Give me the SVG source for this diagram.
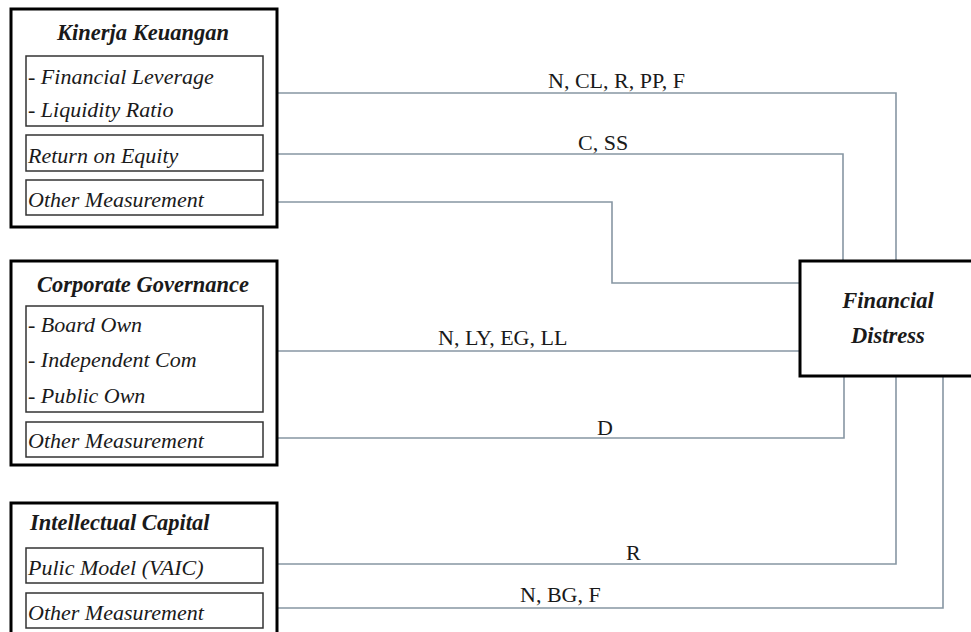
<svg xmlns="http://www.w3.org/2000/svg" width="971" height="632" viewBox="0 0 971 632">
<style>
.outer{fill:#fff;stroke:#000;stroke-width:3}
.inner{fill:#fff;stroke:#333;stroke-width:1.5}
.conn{fill:none;stroke:#8796a3;stroke-width:1.6}
text{font-family:'Liberation Serif','DejaVu Serif',serif;font-size:22px;fill:#1a1a1a}
.it{font-style:italic}
.title{font-style:italic;font-weight:bold;font-size:22.5px}
</style>
<rect width="971" height="632" fill="#fff"/>
<g id="connectors">
<polyline class="conn" points="263,93 896,93 896,261"/>
<polyline class="conn" points="263,154 843,154 843,261"/>
<polyline class="conn" points="263,202 612,202 612,283 800,283"/>
<polyline class="conn" points="263,351 800,351"/>
<polyline class="conn" points="263,438 844,438 844,376"/>
<polyline class="conn" points="263,564 896,564 896,376"/>
<polyline class="conn" points="263,608 943,608 943,376"/>
<text x="548" y="88">N, CL, R, PP, F</text>
<text x="578" y="150">C, SS</text>
<text x="438" y="345">N, LY, EG, LL</text>
<text x="597" y="435">D</text>
<text x="626" y="560">R</text>
<text x="520" y="602">N, BG, F</text>
</g>
<g id="kinerja">
<rect class="outer" x="11" y="9" width="266" height="218"/>
<text class="title" x="143" y="40" text-anchor="middle">Kinerja Keuangan</text>
<rect class="inner" x="26" y="56" width="237" height="70"/>
<text class="it" x="28" y="84">- Financial Leverage</text>
<text class="it" x="28" y="117">- Liquidity Ratio</text>
<rect class="inner" x="26" y="135" width="237" height="36"/>
<text class="it" x="28" y="163">Return on Equity</text>
<rect class="inner" x="26" y="180" width="237" height="35"/>
<text class="it" x="28" y="207">Other Measurement</text>
</g>
<g id="governance">
<rect class="outer" x="11" y="261" width="266" height="204"/>
<text class="title" x="143" y="292" text-anchor="middle">Corporate Governance</text>
<rect class="inner" x="26" y="306" width="237" height="106"/>
<text class="it" x="28" y="332">- Board Own</text>
<text class="it" x="28" y="367">- Independent Com</text>
<text class="it" x="28" y="403">- Public Own</text>
<rect class="inner" x="26" y="422" width="237" height="35"/>
<text class="it" x="28" y="448">Other Measurement</text>
</g>
<g id="intellectual">
<rect class="outer" x="11" y="503" width="266" height="140"/>
<text class="title" x="30" y="530">Intellectual Capital</text>
<rect class="inner" x="26" y="548" width="237" height="35"/>
<text class="it" x="28" y="575">Pulic Model (VAIC)</text>
<rect class="inner" x="26" y="593" width="237" height="35"/>
<text class="it" x="28" y="620">Other Measurement</text>
</g>
<g id="distress">
<rect class="outer" x="800" y="261" width="190" height="115"/>
<text class="title" x="888" y="308" text-anchor="middle">Financial</text>
<text class="title" x="888" y="343" text-anchor="middle">Distress</text>
</g>
</svg>
